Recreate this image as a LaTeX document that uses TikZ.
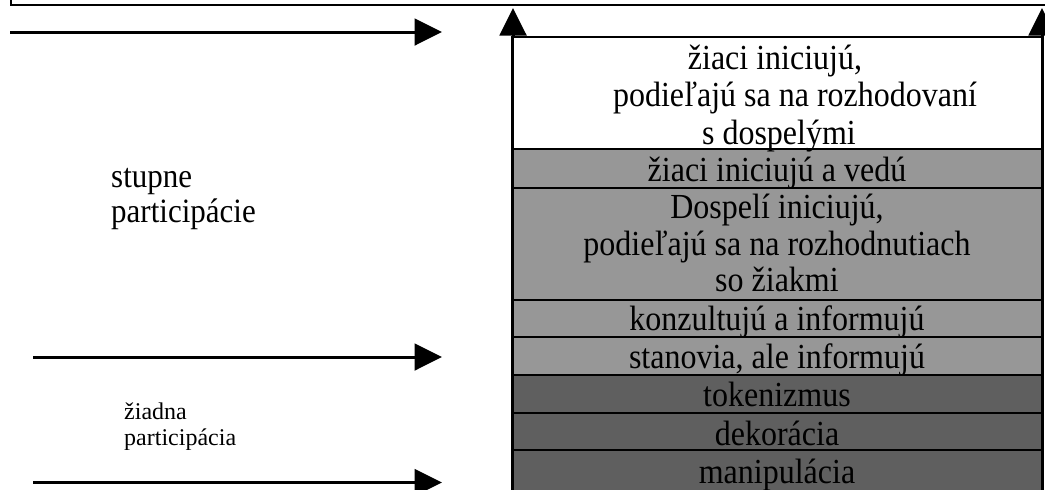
\documentclass[tikz,border=0pt]{standalone}
\usepackage{fontspec}
\usepackage{graphicx}
\setmainfont{Liberation Serif}
\usetikzlibrary{arrows.meta}
\definecolor{lightg}{HTML}{979797}
\definecolor{darkg}{HTML}{5F5F5F}
\newcommand{\sx}[1]{\scalebox{1}[1.1]{#1}}
\setlength{\lineskiplimit}{-100pt}
\tikzset{
  row/.style={draw=black, line width=2.6pt, minimum width=529.6pt, inner sep=0pt},
  rowtext/.style={align=center, inner sep=0pt, anchor=base,
    font=\fontsize{32}{36.7}\selectfont},
  arr/.style={line width=3pt, -{Triangle[length=27.5pt,width=26.7pt]}},
}
\begin{document}
\begin{tikzpicture}[x=1pt,y=-1pt]
\useasboundingbox (0,0) rectangle (1045,490);
\clip (0,0) rectangle (1045,490);
% top frame
\draw[line width=2pt] (10.5,-2) -- (10.5,5) -- (1047,5);
% vertical arrows
\coordinate (lb) at (513,495);
\coordinate (lt) at (513,8);
\coordinate (rb) at (1042,495);
\coordinate (rt) at (1042,8);
\draw[arr] (lb) -- (lt);
\draw[arr] (rb) -- (rt);
% rows
\node[row, fill=white,  minimum height=112pt] (r1) at (777.5,93) {};
\node[row, fill=lightg, minimum height=39pt]  (r2) at (777.5,168.5) {};
\node[row, fill=lightg, minimum height=112pt] (r3) at (777.5,244) {};
\node[row, fill=lightg, minimum height=37pt]  (r4) at (777.5,318.5) {};
\node[row, fill=lightg, minimum height=38pt]  (r5) at (777.5,356) {};
\node[row, fill=darkg,  minimum height=38pt]  (r6) at (777.5,394) {};
\node[row, fill=darkg,  minimum height=39pt]  (r7) at (777.5,432.5) {};
\node[row, fill=darkg,  minimum height=42pt]  (r8) at (777.5,471) {};
% row texts
\node[rowtext, font=\fontsize{32}{37.5}\selectfont] (t1) at (777,144) {\sx{\hspace*{-4pt}žiaci iniciujú,}\\\sx{\hspace*{36pt}podieľajú sa na rozhodovaní}\\\sx{\hspace*{4pt}s dospelými}};
\node[rowtext] (t2) at (777,181) {\sx{žiaci iniciujú a vedú}};
\node[rowtext] (t3) at (777,291.7) {\sx{Dospelí iniciujú,}\\\sx{podieľajú sa na rozhodnutiach}\\\sx{so žiakmi}};
\node[rowtext] (t4) at (777,330.5) {\sx{konzultujú a informujú}};
\node[rowtext] (t5) at (777,368) {\sx{stanovia, ale informujú}};
\node[rowtext] (t6) at (777,406) {\sx{tokenizmus}};
\node[rowtext] (t7) at (777,445) {\sx{dekorácia}};
\node[rowtext] (t8) at (777,483) {\sx{manipulácia}};
% horizontal arrows
\coordinate (a1s) at (10,32);
\coordinate (a1e) at (442,32);
\coordinate (a2s) at (33,357);
\coordinate (a2e) at (442,357);
\coordinate (a3s) at (33,482.5);
\coordinate (a3e) at (442,482.5);
\draw[arr] (a1s) -- (a1e);
\draw[arr] (a2s) -- (a2e);
\draw[arr] (a3s) -- (a3e);
% labels
\node[align=left, inner sep=0pt, anchor=base west,
  font=\fontsize{31}{35.5}\selectfont] (st) at (111,222.5) {\sx{stupne}\\\sx{participácie}};
\begin{scope}
\clip (100,390) rectangle (300,449);
\node[align=left, inner sep=0pt, anchor=base west,
  font=\fontsize{24}{25.7}\selectfont] (zp) at (124,445) {žiadna\\participácia};
\end{scope}
\end{tikzpicture}
\end{document}
